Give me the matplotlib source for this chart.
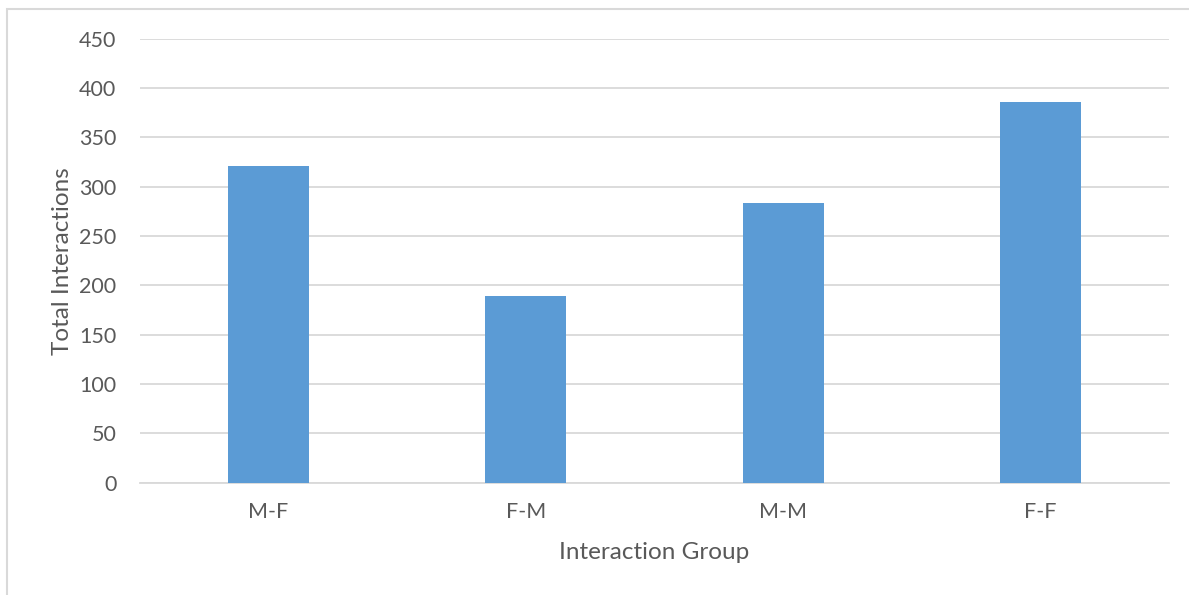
import matplotlib
matplotlib.use('Agg')
import matplotlib.pyplot as plt  # NOQA
from matplotlib.patches import Rectangle  # NOQA

groups = ['M-F', 'F-M', 'M-M', 'F-F']
totals = [321, 189, 283, 386]
yticks = [0, 50, 100, 150, 200, 250, 300, 350, 400, 450]

BAR = '#5B9BD5'
TEXT = '#595959'
GRID = '#D9D9D9'

plt.rcParams['font.family'] = ['Lato', 'DejaVu Sans']

fig = plt.figure(figsize=(11.89, 5.95), dpi=100)
ax = fig.add_axes([140 / 1189, 1 - 482.7 / 595, 1029 / 1189, 444 / 595])

# chart frame, only the top and left edges are in view
fig.patches.append(Rectangle((7 / 1189, -0.1), 1.2, 1 - 9 / 595 + 0.1,
                             transform=fig.transFigure, fill=False,
                             edgecolor=GRID, linewidth=1.5))

x = range(len(groups))
ax.bar(x, totals, width=0.315, color=BAR, zorder=3)

ax.set_xlim(-0.5, len(groups) - 0.5)
ax.set_ylim(0, 450)
ax.set_yticks(yticks)
ax.set_xticks(list(x))
ax.set_xticklabels(groups)
ax.yaxis.grid(True, color=GRID, linewidth=1.3, zorder=0)
for side in ['top', 'right', 'left']:
    ax.spines[side].set_visible(False)
ax.spines['bottom'].set_color(GRID)
ax.spines['bottom'].set_linewidth(1.3)
ax.tick_params(axis='both', length=0, colors=TEXT, labelsize=15.5)
ax.tick_params(axis='y', pad=17)
ax.tick_params(axis='x', pad=14)

ax.set_xlabel('Interaction Group', color=TEXT, fontsize=17.5, labelpad=14)
ax.set_ylabel('Total Interactions', color=TEXT, fontsize=17.5, labelpad=4)

plt.savefig('out.png', dpi=100)
plt.close()
